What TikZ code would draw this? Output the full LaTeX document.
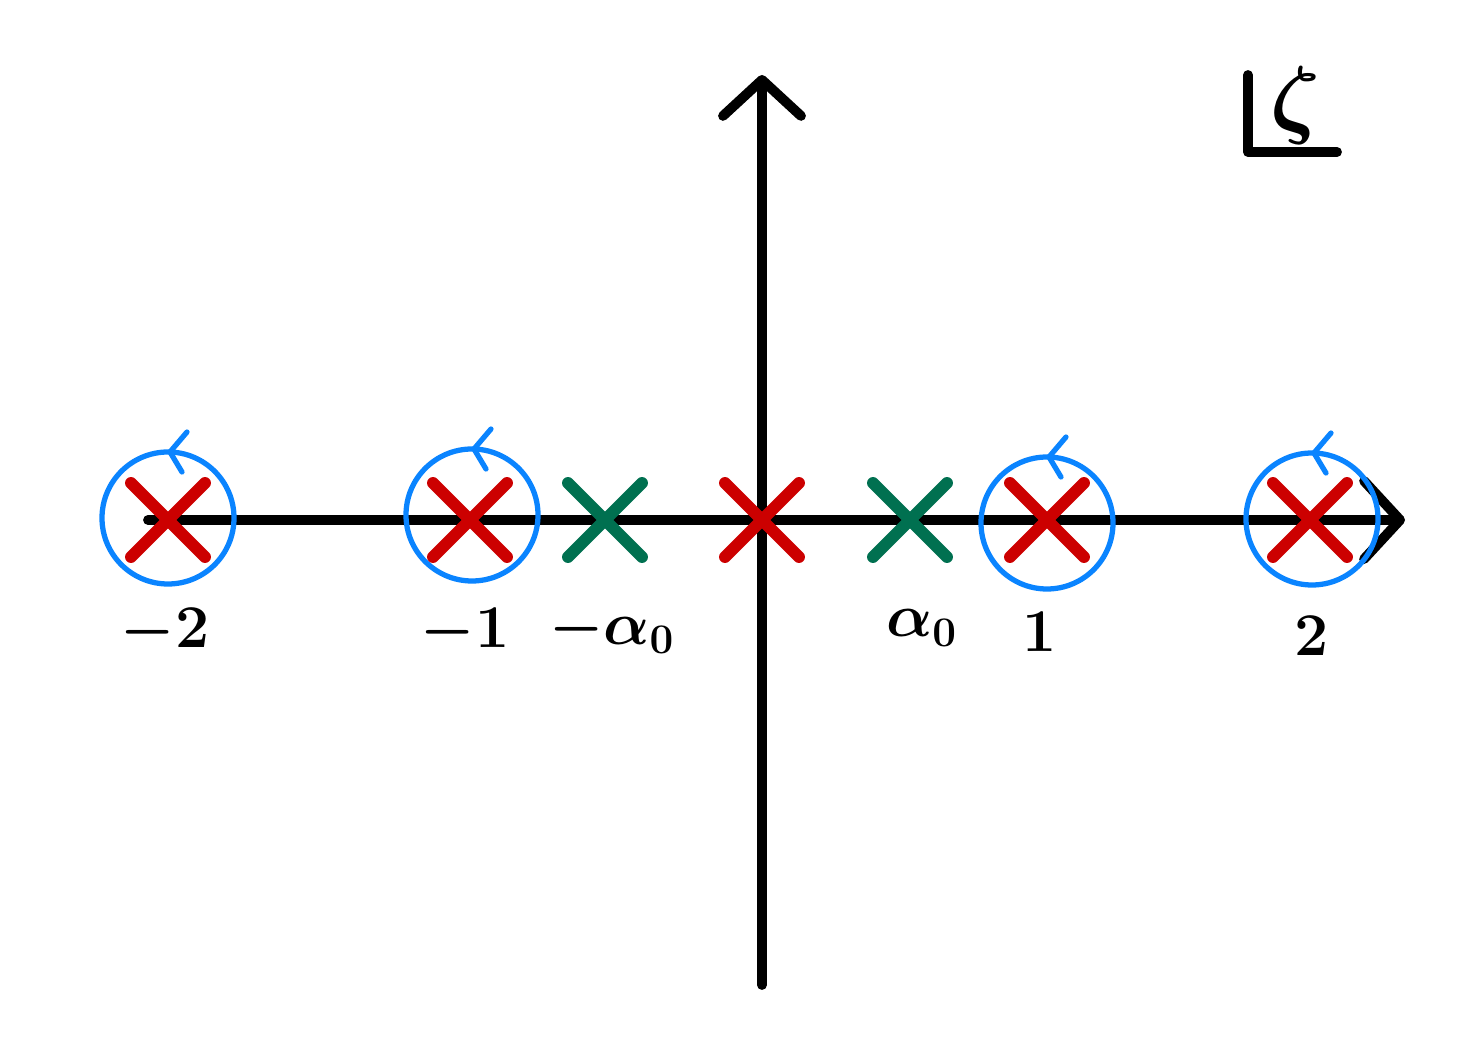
\documentclass[tikz,border=0pt]{standalone}
\usepackage{amsmath}
\usetikzlibrary{arrows.meta}

\definecolor{polered}{RGB}{204,0,0}
\definecolor{zerogreen}{RGB}{0,112,80}
\definecolor{loopblue}{RGB}{10,132,255}

\tikzset{
  >={Straight Barb[round,length=3.6mm,width=7.8mm]},   % open chevron tips
  axis/.style={line width=2.8pt,line cap=round,line join=round},
  pole/.style={polered,line width=3.4pt,line cap=round},
  zero/.style={zerogreen,line width=3.4pt,line cap=round},
  loop/.style={loopblue,line width=1.5pt,line cap=round,line join=round},
  lbl/.style={font=\LARGE\boldmath}
}

\begin{document}
\begin{tikzpicture}
	\useasboundingbox (0,0) rectangle (14.75,10.42);

	% axes
	\coordinate (xl) at (1.48,5.22);
	\coordinate (xr) at (14.05,5.22);
	\coordinate (yb) at (7.62,0.57);
	\coordinate (yt) at (7.62,9.67);
	\draw[axis,->] (xl) -- (xr);
	\draw[axis,->] (yb) -- (yt);

	% plane label
	\draw[axis] (12.48,9.67) -- (12.48,8.90) -- (13.37,8.90);
	\node (plane) at (12.95,9.36) {\fontsize{28}{32}\selectfont$\boldsymbol{\zeta}$};

	% circles round the poles
	\foreach \x/\y/\n in {1.68/5.24/m2, 4.72/5.27/m1, 10.47/5.19/p1, 13.12/5.23/p2} {
		\draw[loop] (\x,\y) circle (0.66);
		\draw[loop] (\x+0.19,\y+0.86) -- (\x+0.02,\y+0.66) -- (\x+0.14,\y+0.46);
	}

	% poles
	\foreach \x in {1.68, 4.70, 7.62, 10.47, 13.10} {
		\draw[pole] (\x-0.37,5.22-0.37) -- (\x+0.37,5.22+0.37);
		\draw[pole] (\x-0.37,5.22+0.37) -- (\x+0.37,5.22-0.37);
	}
	% zeros
	\foreach \x in {6.05, 9.10} {
		\draw[zero] (\x-0.37,5.22-0.37) -- (\x+0.37,5.22+0.37);
		\draw[zero] (\x-0.37,5.22+0.37) -- (\x+0.37,5.22-0.37);
	}

	% labels
	\node[lbl] (lm2) at (1.65,4.10) {$-2$};
	\node[lbl] (lm1) at (4.65,4.10) {$-1$};
	\node[lbl] (lma) at (6.12,4.12) {$-\alpha_0$};
	\node[lbl] (lpa) at (9.22,4.14) {$\alpha_0$};
	\node[lbl] (lp1) at (10.40,4.10) {$1$};
	\node[lbl] (lp2) at (13.12,4.06) {$2$};

\end{tikzpicture}
\end{document}
